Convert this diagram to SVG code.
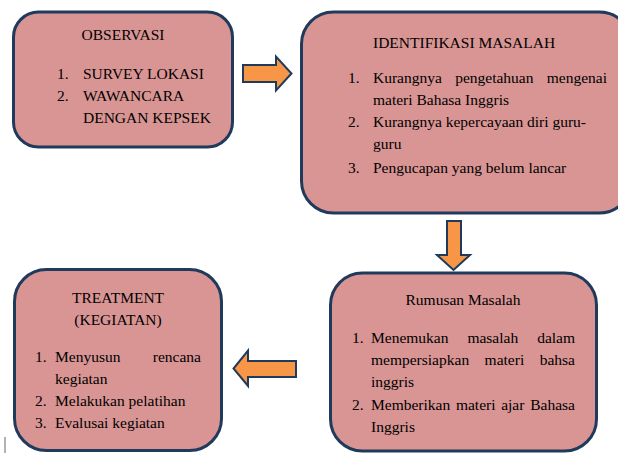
<svg xmlns="http://www.w3.org/2000/svg" width="618" height="453" viewBox="0 0 618 453">
<style>
.box{fill:#d99594;stroke:#203a5c;stroke-width:3}
.arr{fill:#f79646;stroke:#203a5c;stroke-width:2;stroke-linejoin:miter}
.t text{font-size:15.5px;fill:#000000}
.c{text-anchor:middle}
.e{text-anchor:end}
</style>
<rect width="618" height="453" fill="#ffffff"/>
<g class="t" font-family="Liberation Serif, DejaVu Serif, serif">
<g id="observasi">
<rect class="box" x="13.5" y="12" width="219" height="135" rx="25"/>
<text class="c" x="123" y="40">OBSERVASI</text>
<text x="57" y="79">1.</text><text x="83" y="79">SURVEY LOKASI</text>
<text x="57" y="101">2.</text><text x="83" y="101">WAWANCARA</text>
<text x="83" y="123">DENGAN KEPSEK</text>
</g>
<g id="identifikasi">
<rect class="box" x="301.5" y="12" width="330" height="201" rx="32"/>
<text x="373" y="48">IDENTIFIKASI MASALAH</text>
<text x="348" y="83">1.</text><text x="373" y="83">Kurangnya</text><text class="c" x="494.3" y="83">pengetahuan</text><text class="e" x="607" y="83">mengenai</text>
<text x="373" y="105">materi Bahasa Inggris</text>
<text x="348" y="127">2.</text><text x="373" y="127">Kurangnya kepercayaan diri guru-</text>
<text x="373" y="149">guru</text>
<text x="348" y="173">3.</text><text x="373" y="173">Pengucapan yang belum lancar</text>
</g>
<g id="rumusan">
<rect class="box" x="330.5" y="273" width="266" height="178" rx="32"/>
<text class="c" x="463" y="305">Rumusan Masalah</text>
<text x="352" y="343">1.</text><text x="371" y="343">Menemukan</text><text class="c" x="492.8" y="343">masalah</text><text class="e" x="575" y="343">dalam</text>
<text x="371" y="365">mempersiapkan</text><text class="c" x="504.4" y="365">materi</text><text class="e" x="575" y="365">bahsa</text>
<text x="371" y="387">inggris</text>
<text x="352" y="410">2.</text><text x="371" y="410">Memberikan</text><text x="455.9" y="410">materi</text><text x="501.2" y="410">ajar</text><text class="e" x="575" y="410">Bahasa</text>
<text x="371" y="432">Inggris</text>
</g>
<g id="treatment">
<rect class="box" x="14.5" y="269.5" width="207" height="181" rx="32"/>
<text class="c" x="118" y="303">TREATMENT</text>
<text class="c" x="118" y="325">(KEGIATAN)</text>
<text x="35" y="362">1.</text><text x="55" y="362">Menyusun</text><text class="e" x="201" y="362">rencana</text>
<text x="55" y="384">kegiatan</text>
<text x="35" y="406">2.</text><text x="55" y="406">Melakukan pelatihan</text>
<text x="35" y="428">3.</text><text x="55" y="428">Evalusai kegiatan</text>
</g>
</g>
<g id="connectors">
<polygon class="arr" points="243,65 276,65 276,56.5 291.5,73.5 276,90.5 276,82 243,82"/>
<polygon class="arr" points="447,221 461,221 461,255 470,255 453.5,270 437,255 447,255"/>
<polygon class="arr" points="296,361 248,361 248,350.5 233.5,368.5 248,386 248,377 296,377"/>
</g>
<line x1="5" y1="437" x2="5" y2="453" stroke="#9a9a9a" stroke-width="1.5"/>
</svg>
